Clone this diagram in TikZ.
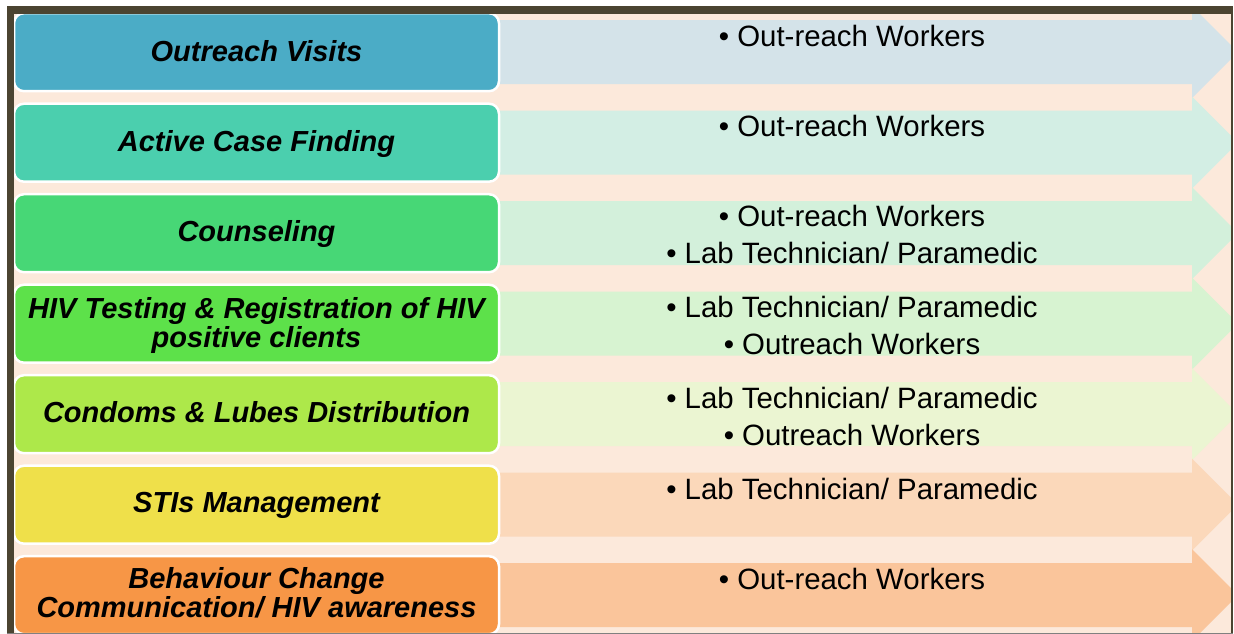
\documentclass[tikz,border=0pt]{standalone}
\usepackage{fontspec}
\setmainfont{Liberation Sans}
\definecolor{peach}{HTML}{FCE9DB}
\definecolor{framec}{HTML}{4B4431}
\definecolor{a1}{HTML}{D4E3E9}
\definecolor{a2}{HTML}{D3EEE4}
\definecolor{a3}{HTML}{D3F0DB}
\definecolor{a4}{HTML}{D7F3D1}
\definecolor{a5}{HTML}{EBF5D2}
\definecolor{a6}{HTML}{FBD8BA}
\definecolor{a7}{HTML}{FAC59B}
\definecolor{b1}{HTML}{4BACC6}
\definecolor{b2}{HTML}{4BCFAE}
\definecolor{b3}{HTML}{47D776}
\definecolor{b4}{HTML}{5DE14A}
\definecolor{b5}{HTML}{ADE84A}
\definecolor{b6}{HTML}{EFE04A}
\definecolor{b7}{HTML}{F79646}
\tikzset{
  stagebox/.style={draw=white, line width=2.5pt, rounded corners=10pt,
    minimum width=485pt, minimum height=78pt, inner sep=0pt},
  boxtext/.style={anchor=base, inner sep=0pt,
    font=\fontsize{29}{30}\selectfont\bfseries\itshape},
  roletext/.style={anchor=base, inner sep=0pt,
    font=\fontsize{29.4}{37}\selectfont},
}
\begin{document}
\begin{tikzpicture}[x=1pt,y=-1pt]
\useasboundingbox (0,0) rectangle (1234,634);
\fill[white] (0,0) rectangle (1234,634);
\fill[peach] (7,6) rectangle (1233,634);
% arrows
\begin{scope}
\clip (14,14) rectangle (1231,632);
\foreach \i/\ac in {0/a1,1/a2,2/a3,3/a4,4/a5,5/a6,6/a7}{
  \pgfmathsetmacro{\c}{52.2+90.5*\i}
  \fill[\ac] (495,\c-32) -- (1192,\c-32) -- (1192,\c-46) -- (1238,\c)
     -- (1192,\c+46) -- (1192,\c+32) -- (495,\c+32) -- cycle;
}
\end{scope}
% boxes
\foreach \i/\bc in {0/b1,1/b2,2/b3,3/b4,4/b5,5/b6,6/b7}{
  \pgfmathsetmacro{\c}{52.2+90.5*\i}
  \node[stagebox, fill=\bc] (box\i) at (256.5,\c) {};
}
% box texts
\node[boxtext] (s0) at (256.5,61.7) {Outreach Visits};
\node[boxtext] (s1) at (256.5,151.2) {Active Case Finding};
\node[boxtext] (s2) at (256.5,241.7) {Counseling};
\node[boxtext] (s3a) at (256.5,318) {HIV Testing \& Registration of HIV};
\node[boxtext] (s3b) at (256.5,347) {positive clients};
\node[boxtext] (s4) at (256.5,422.7) {Condoms \& Lubes Distribution};
\node[boxtext] (s5) at (256.5,512.7) {STIs Management};
\node[boxtext] (s6a) at (256.5,588.5) {Behaviour Change};
\node[boxtext] (s6b) at (256.5,617.5) {Communication/ HIV awareness};
% role texts
\node[roletext] (r0) at (852,46.5) {• Out-reach Workers};
\node[roletext] (r1) at (852,136.5) {• Out-reach Workers};
\node[roletext] (r2a) at (852,226.5) {• Out-reach Workers};
\node[roletext] (r2b) at (852,263.5) {• Lab Technician/ Paramedic};
\node[roletext] (r3a) at (852,317) {• Lab Technician/ Paramedic};
\node[roletext] (r3b) at (852,354) {• Outreach Workers};
\node[roletext] (r4a) at (852,408) {• Lab Technician/ Paramedic};
\node[roletext] (r4b) at (852,445) {• Outreach Workers};
\node[roletext] (r5) at (852,499.5) {• Lab Technician/ Paramedic};
\node[roletext] (r6) at (852,589) {• Out-reach Workers};
% frame
\fill[framec] (7,6) rectangle (1233,14);
\fill[framec] (7,6) rectangle (14,634);
\fill[framec] (1231,6) rectangle (1233,634);
\fill[gray] (7,632.5) rectangle (1233,634);
\end{tikzpicture}
\end{document}
